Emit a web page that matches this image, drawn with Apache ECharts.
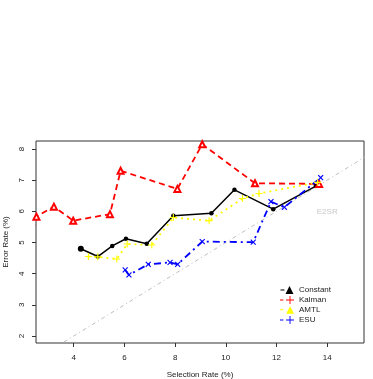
<!DOCTYPE html>
<html>
<head>
<meta charset="utf-8">
<script src="https://cdn.jsdelivr.net/npm/echarts@6/dist/echarts.min.js"></script>
<style>
  html, body { margin: 0; padding: 0; background: #fff; }
  #chart { width: 373px; height: 379px; }
</style>
</head>
<body>
<div id="chart"></div>
<script>
// values
const constantX = [4.28, 4.95, 5.52, 6.06, 6.88, 7.93, 9.43, 10.34, 11.87, 13.55];
const constantY = [4.80, 4.55, 4.89, 5.12, 4.96, 5.86, 5.94, 6.69, 6.07, 6.81];

const kalmanX = [2.40, 2.53, 3.22, 3.98, 5.43, 5.85, 8.09, 9.07, 11.15, 13.68];
const kalmanY = [5.40, 5.83, 6.15, 5.70, 5.91, 7.30, 6.72, 8.15, 6.90, 6.88];

const amtlX = [4.58, 4.95, 5.70, 6.11, 7.08, 7.93, 9.34, 10.66, 11.31, 13.62];
const amtlY = [4.55, 4.54, 4.47, 4.95, 4.92, 5.80, 5.70, 6.41, 6.57, 6.93];

const esuX = [6.03, 6.18, 6.94, 7.80, 8.10, 9.07, 11.08, 11.78, 12.31, 13.74];
const esuY = [4.12, 3.96, 4.30, 4.36, 4.30, 5.03, 5.01, 6.31, 6.13, 7.08];

const e2srX = [2, 16];
const e2srY = [1, 8];

const xTicks = [4, 6, 8, 10, 12, 14];
const yTicks = [2, 3, 4, 5, 6, 7, 8];

const pair = (xs, ys) => xs.map((x, i) => [x, ys[i]]);

const plusPath = "path://M4.2,0H5.8V4.2H10V5.8H5.8V10H4.2V5.8H0V4.2H4.2Z";
const plusIcon = "path://M0,3.6H3V4.4H0Z M8.4,0.5H9.2V3.6H12.3V4.4H9.2V7.5H8.4V4.4H5.3V3.6H8.4Z";
const font = "Liberation Sans, Arial, sans-serif";

const chart = echarts.init(document.getElementById("chart"));

chart.setOption({
  animation: false,
  textStyle: { fontFamily: font },
  grid: {
    left: 36, right: 9, top: 141, bottom: 36,
    outerBoundsMode: "none",
    containLabel: false,
    show: true, borderColor: "#333", borderWidth: 1, backgroundColor: "transparent"
  },
  legend: {
    orient: "vertical",
    left: 280,
    top: 286,
    padding: 0,
    itemWidth: 14,
    itemHeight: 8,
    itemGap: 2,
    itemStyle: { borderWidth: 0 },
    textStyle: { fontSize: 8, color: "#222", fontFamily: font },
    data: [
      { name: "Constant", icon: "path://M0,3.5H4V4.6H0Z M9,0L13,8H5Z" },
      { name: "Kalman", icon: plusIcon, itemStyle: { borderWidth: 0 } },
      { name: "AMTL", icon: "path://M0,3.6H3V4.4H0Z M9,1L12.5,7.5H5.5Z" },
      { name: "ESU", icon: plusIcon }
    ]
  },
  xAxis: {
    type: "value",
    min: 2.513,
    max: 15.45,
    name: "Selection Rate (%)",
    nameLocation: "middle",
    nameGap: 28,
    nameTextStyle: { fontSize: 8, color: "#222" },
    axisLine: { show: false },
    splitLine: { show: false },
    axisTick: { show: true, length: 4, customValues: xTicks, lineStyle: { color: "#333" } },
    axisLabel: { customValues: xTicks, fontSize: 8, color: "#222", margin: 11 }
  },
  yAxis: {
    type: "value",
    min: 1.776,
    max: 8.256,
    name: "Error Rate (%)",
    nameLocation: "middle",
    nameGap: 21,
    nameTextStyle: { fontSize: 8, color: "#222" },
    axisLine: { show: false },
    splitLine: { show: false },
    axisTick: { show: true, length: 4, customValues: yTicks, lineStyle: { color: "#333" } },
    axisLabel: { customValues: yTicks, fontSize: 8, color: "#222", margin: 10, rotate: 90 }
  },
  series: [
    {
      name: "E2SR",
      type: "line",
      data: pair(e2srX, e2srY),
      symbol: "none",
      clip: true,
      silent: true,
      lineStyle: { color: "#bebebe", width: 1, type: [1, 3, 4, 3] },
      markPoint: {
        symbol: "circle",
        symbolSize: 0,
        data: [{ coord: [14, 6] }],
        label: { show: true, formatter: "E2SR", color: "#c8c8c8", fontSize: 8, position: "inside" }
      }
    },
    {
      name: "Constant",
      type: "line",
      data: pair(constantX, constantY).map((v, i) => (i === 0 ? { value: v, symbolSize: 6 } : v)),
      symbol: "circle",
      symbolSize: 4.5,
      clip: true,
      color: "#000",
      itemStyle: { color: "#000" },
      lineStyle: { color: "#000", width: 1.5 }
    },
    {
      name: "Kalman",
      type: "line",
      data: pair(kalmanX, kalmanY),
      symbol: "emptyTriangle",
      symbolSize: 6,
      clip: true,
      color: "#ff0000",
      itemStyle: { color: "#ff0000", borderColor: "#ff0000", borderWidth: 1 },
      lineStyle: { color: "#ff0000", width: 1.8, type: [6, 4] }
    },
    {
      name: "AMTL",
      type: "line",
      data: pair(amtlX, amtlY),
      symbol: plusPath,
      symbolSize: 7,
      clip: true,
      color: "#ffff00",
      itemStyle: { color: "#ffff00" },
      lineStyle: { color: "#ffff00", width: 1.8, type: [2, 4] }
    },
    {
      name: "ESU",
      type: "line",
      data: pair(esuX, esuY),
      symbol: plusPath,
      symbolRotate: 45,
      symbolSize: 7,
      clip: true,
      color: "#0000ff",
      itemStyle: { color: "#0000ff" },
      lineStyle: { color: "#0000ff", width: 1.8, type: [7, 4, 2, 4] }
    }
  ]
});
</script>
</body>
</html>
